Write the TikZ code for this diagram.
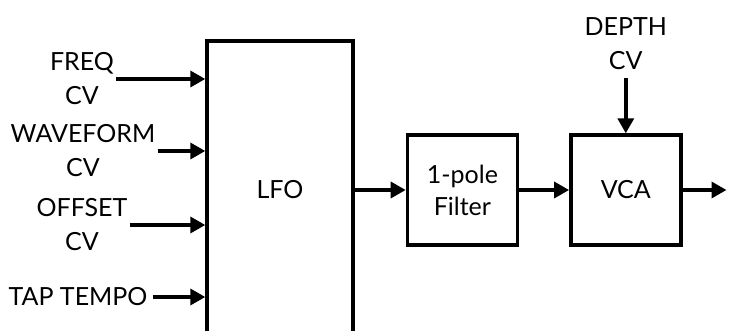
\documentclass[tikz,border=0pt]{standalone}
\usepackage{fontspec}
\setmainfont{Lato}
\usetikzlibrary{arrows.meta,positioning,calc}
\tikzset{
  blockbox/.style={draw=black,line width=3.4pt,minimum width=110pt,minimum height=110pt,align=center,font=\fontsize{25}{32}\selectfont,inner sep=0pt},
  cvlabel/.style={align=center,font=\fontsize{25}{34}\selectfont,inner sep=2pt},
  sig/.style={-{Triangle[length=15pt,width=16pt]},line width=3.4pt,draw=black}
}

\begin{document}
\begin{tikzpicture}[x=1pt,y=-1pt]
  \useasboundingbox (0,0) rectangle (729,331);
  \clip (0,0) rectangle (729,331);
  % main blocks
  \node[blockbox,minimum width=146pt,minimum height=298pt] (lfo) at (280,190) {LFO};
  \node[blockbox,right=51pt of lfo.east,anchor=west] (filter) {1-pole\\Filter};
  \node[blockbox,right=50pt of filter] (vca) {VCA};
  \coordinate[right=44pt of vca.east] (out);
  % inputs
  \node[cvlabel] (freq) at (82,79) {FREQ\\CV};
  \node[cvlabel] (wave) at (83,151) {WAVEFORM\\CV};
  \node[cvlabel] (offset) at (82,225) {OFFSET\\CV};
  \node[cvlabel] (tap) at (78,297) {TAP TEMPO};
  \node[cvlabel,above=61pt of vca.north,anchor=south] (depth) {DEPTH\\CV};
  % connections
  \draw[sig] (freq.east) -- (freq.east -| lfo.west);
  \draw[sig] (wave.east) -- (wave.east -| lfo.west);
  \draw[sig] (offset.east) -- (offset.east -| lfo.west);
  \draw[sig] ($(tap.east)+(3,0)$) -- (tap.east -| lfo.west);
  \draw[sig] (filter.west -| lfo.east) -- (filter.west);
  \draw[sig] (filter) -- (vca);
  \draw[sig] (vca.east) -- (out);
  \draw[sig] ($(depth.south)+(0,6)$) -- (vca.north);
\end{tikzpicture}
\end{document}
